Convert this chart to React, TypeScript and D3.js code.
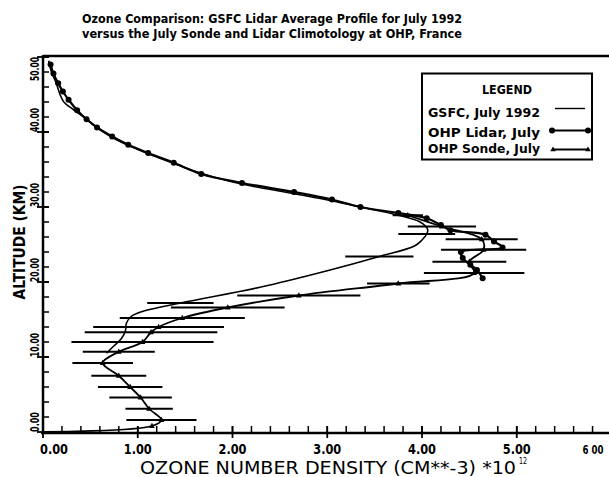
import React from "react";
import * as d3 from "d3";

// ---- data (altitude km, ozone number density 1e12 cm^-3) ----
const gsfcAlt = [49.5, 48.0, 46.5, 45.0, 44.0, 43.0, 42.0, 41.0, 40.0, 39.0, 38.0, 37.0, 36.0, 35.0, 34.0, 33.0, 32.0, 31.0, 30.0, 29.0, 28.0, 27.0, 26.4, 25.6, 24.8, 23.4, 21.5, 19.3, 17.2, 16.0, 15.4, 14.5, 13.5, 12.5, 11.5, 10.5];
const gsfcVal = [0.06, 0.09, 0.14, 0.18, 0.22, 0.32, 0.43, 0.53, 0.64, 0.77, 0.94, 1.13, 1.34, 1.55, 1.80, 2.12, 2.55, 2.98, 3.35, 3.72, 3.98, 4.06, 4.05, 4.0, 3.92, 3.55, 3.0, 2.29, 1.45, 1.03, 0.93, 0.88, 0.87, 0.83, 0.75, 0.67];
const gsfcBarAlt = [17.2, 23.4, 26.4];
const gsfcBarSd = [0.35, 0.36, 0.30];

const lidarAlt = [49.0, 47.8, 46.5, 45.4, 44.3, 42.9, 41.7, 40.6, 39.4, 38.3, 37.2, 35.9, 34.4, 33.2, 32.0, 31.0, 30.0, 29.2, 28.5, 27.6, 26.9, 26.3, 25.4, 24.6, 24.0, 23.2, 22.3, 21.6, 20.5];
const lidarVal = [0.08, 0.11, 0.16, 0.21, 0.27, 0.36, 0.46, 0.57, 0.73, 0.90, 1.11, 1.38, 1.67, 2.10, 2.65, 3.05, 3.35, 3.75, 4.05, 4.20, 4.30, 4.67, 4.76, 4.85, 4.41, 4.43, 4.51, 4.58, 4.64];

const sondeAlt = [0.0, 0.8, 1.6, 3.1, 4.6, 6.0, 7.5, 9.2, 10.7, 12.0, 13.3, 14.0, 15.2, 16.6, 18.2, 19.8, 21.2, 22.7, 24.3, 25.7, 27.4, 28.9];
const sondeVal = [0.02, 1.15, 1.25, 1.12, 1.03, 0.92, 0.80, 0.63, 0.80, 1.05, 1.14, 1.22, 1.47, 1.95, 2.70, 3.75, 4.55, 4.50, 4.65, 4.63, 4.21, 3.85];
const sondeSd = [0, 0, 0.37, 0.25, 0.33, 0.34, 0.29, 0.32, 0.38, 0.75, 0.70, 0.69, 0.66, 0.60, 0.65, 0.33, 0.53, 0.39, 0.45, 0.38, 0.36, 0.16];

const xMajor = [0, 1, 2, 3, 4, 5, 6];
const xTickLabels = ["0.00", "1.00", "2.00", "3.00", "4.00", "5.00", "6 00"];
const yMajor = [0, 10, 20, 30, 40, 50];
const yTickLabels = ["0.00", "10.00", "20.00", "30.00", "40.00", "50.00"];
const legendLabels = ["GSFC, July 1992", "OHP Lidar, July", "OHP Sonde, July"];
const titleLines = [
  "Ozone Comparison: GSFC Lidar Average Profile for July 1992",
  "versus the July Sonde and Lidar Climotology at OHP, France",
];

const W = 609;
const H = 477;
const FONT = "'DejaVu Sans', sans-serif";

export default function App() {
  const x = d3.scaleLinear().domain([0, 6]).range([43, 611.5]);
  const y = d3.scaleLinear().domain([0, 50]).range([432, 57]);

  const line = d3
    .line<[number, number]>()
    .x((d) => x(d[0]))
    .y((d) => y(d[1]))
    .curve(d3.curveCatmullRom.alpha(0.5));

  const gsfc = gsfcAlt.map((a, i) => [gsfcVal[i], a] as [number, number]);
  const lidar = lidarAlt.map((a, i) => [lidarVal[i], a] as [number, number]);
  const sonde = sondeAlt.map((a, i) => [sondeVal[i], a] as [number, number]);

  const gsfcInterp = (alt: number) => {
    for (let i = 0; i < gsfcAlt.length - 1; i++) {
      const a0 = gsfcAlt[i], a1 = gsfcAlt[i + 1];
      if (alt <= a0 && alt >= a1) {
        const t = (alt - a0) / (a1 - a0);
        return gsfcVal[i] + t * (gsfcVal[i + 1] - gsfcVal[i]);
      }
    }
    return 0;
  };

  const xMinor = d3.range(0, 6.001, 0.2);
  const yMinor = d3.range(0, 50.001, 2);

  const tri = (cx: number, cy: number, s: number) =>
    `M${cx},${cy - s}L${cx + s * 0.9},${cy + s * 0.6}L${cx - s * 0.9},${cy + s * 0.6}Z`;

  return (
    <div style={{ position: "fixed", left: 0, top: 0, width: W, height: H, background: "#fff" }}>
      <svg width={W} height={H} style={{ display: "block" }}>
        <rect width={W} height={H} fill="#fff" />
        {/* title */}
        {titleLines.map((t, i) => (
          <text key={i} x={272} y={23 + i * 15} textAnchor="middle" fontFamily={FONT} fontWeight="bold" fontSize={12.5} textLength={380} lengthAdjust="spacingAndGlyphs">{t}</text>
        ))}

        {/* curves */}
        <path d={line(gsfc) || ""} fill="none" stroke="#000" strokeWidth={1.6} />
        <path d={line(lidar) || ""} fill="none" stroke="#000" strokeWidth={2.2} />
        <path d={line(sonde) || ""} fill="none" stroke="#000" strokeWidth={1.8} />

        {/* error bars */}
        {sondeAlt.map((a, i) =>
          sondeSd[i] > 0 ? (
            <line key={"sb" + i} x1={x(sondeVal[i] - sondeSd[i])} x2={x(sondeVal[i] + sondeSd[i])} y1={y(a)} y2={y(a)} stroke="#000" strokeWidth={2} />
          ) : null
        )}
        {gsfcBarAlt.map((a, i) => {
          const v = gsfcInterp(a);
          return <line key={"gb" + i} x1={x(v - gsfcBarSd[i])} x2={x(v + gsfcBarSd[i])} y1={y(a)} y2={y(a)} stroke="#000" strokeWidth={2} />;
        })}

        {/* markers */}
        {lidar.map((d, i) => (
          <circle key={"lm" + i} cx={x(d[0])} cy={y(d[1])} r={3} fill="#000" />
        ))}
        {sonde.slice(1).map((d, i) => (
          <path key={"sm" + i} d={tri(x(d[0]), y(d[1]), 3.2)} fill="#000" />
        ))}

        {/* axes */}
        <line x1={43} x2={609} y1={y(50) - 1} y2={y(50) - 1} stroke="#000" strokeWidth={2.5} />
        <line x1={43} x2={43} y1={y(50) - 2} y2={y(0) + 1} stroke="#000" strokeWidth={2.5} />
        <line x1={41} x2={609} y1={y(0) + 1} y2={y(0) + 1} stroke="#000" strokeWidth={2.5} />
        {xMinor.map((v, i) => (
          <line key={"xm" + i} x1={x(v)} x2={x(v)} y1={y(0) + 1} y2={y(0) - 6} stroke="#000" strokeWidth={1.5} />
        ))}
        {xMajor.map((v, i) => (
          <line key={"xM" + i} x1={x(v)} x2={x(v)} y1={y(0) + 6} y2={y(0) - 6} stroke="#000" strokeWidth={1.8} />
        ))}
        {yMinor.map((v, i) => (
          <line key={"ym" + i} x1={43} x2={49} y1={y(v)} y2={y(v)} stroke="#000" strokeWidth={1.5} />
        ))}
        {yMajor.map((v, i) => (
          <line key={"yM" + i} x1={37} x2={49} y1={y(v)} y2={y(v)} stroke="#000" strokeWidth={1.8} />
        ))}

        {/* x tick labels */}
        {xMajor.map((v, i) => {
          const last = i === xMajor.length - 1;
          let cx = x(v);
          if (i === 0) cx = x(v) + 11;
          if (last) cx = Math.min(x(v), W - 16);
          return (
            <text key={"xl" + i} x={cx} y={454} textAnchor="middle" fontFamily={FONT} fontWeight="bold" fontSize={last ? 11.5 : 13.5} textLength={last ? 21 : 28} lengthAdjust="spacingAndGlyphs">{xTickLabels[i]}</text>
          );
        })}
        {/* y tick labels */}
        {yMajor.map((v, i) => {
          let start = y(v);
          const len = i === 0 ? 20 : 24;
          if (i === yMajor.length - 1) start = y(v) + len;
          return (
            <text key={"yl" + i} transform={`translate(38.5,${start}) rotate(-90)`} textAnchor="start" fontFamily={FONT} fontWeight="bold" fontSize={12.5} textLength={len} lengthAdjust="spacingAndGlyphs">{yTickLabels[i]}</text>
          );
        })}

        {/* axis titles */}
        <text transform="translate(25,242) rotate(-90)" textAnchor="middle" fontFamily={FONT} fontWeight="bold" fontSize={16} textLength={115} lengthAdjust="spacingAndGlyphs">ALTITUDE  (KM)</text>
        <text x={140} y={474} fontFamily={FONT} fontSize={17} textLength={376} lengthAdjust="spacingAndGlyphs">OZONE NUMBER DENSITY (CM**-3) *10</text>
        <text x={519} y={464} fontFamily={FONT} fontSize={8} textLength={8} lengthAdjust="spacingAndGlyphs">12</text>

        {/* legend */}
        <rect x={422} y={73.5} width={170} height={86} fill="#fff" stroke="#000" strokeWidth={2} />
        <text x={507} y={94} textAnchor="middle" fontFamily={FONT} fontWeight="bold" fontSize={12} textLength={50} lengthAdjust="spacingAndGlyphs">LEGEND</text>
        {legendLabels.map((t, i) => (
          <text key={"lg" + i} x={428} y={[116.5, 136.5, 153][i]} fontFamily={FONT} fontWeight="bold" fontSize={13} textLength={112} lengthAdjust="spacingAndGlyphs">{t}</text>
        ))}
        <line x1={555} x2={585} y1={108.5} y2={108.5} stroke="#000" strokeWidth={1.4} />
        <line x1={552} x2={588} y1={130.5} y2={130.5} stroke="#000" strokeWidth={2.2} />
        <circle cx={552} cy={130.5} r={3} fill="#000" />
        <circle cx={588} cy={130.5} r={3} fill="#000" />
        <line x1={553} x2={588} y1={149.5} y2={149.5} stroke="#000" strokeWidth={1.8} />
        <path d={tri(553, 149.5, 3)} fill="#000" />
        <path d={tri(588, 149.5, 3)} fill="#000" />
      </svg>
    </div>
  );
}
